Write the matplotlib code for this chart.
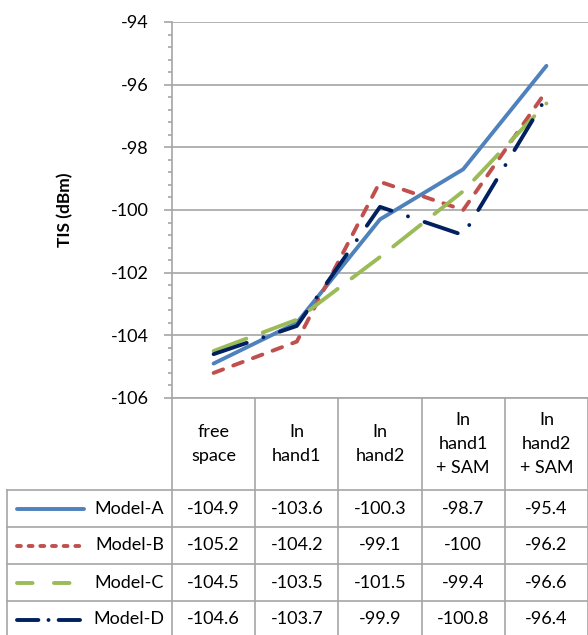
import matplotlib.pyplot as plt
from matplotlib.lines import Line2D
import matplotlib.transforms as mtransforms

plt.rcParams['font.family'] = ['Lato', 'DejaVu Sans']
plt.rcParams['axes.unicode_minus'] = False

categorias = ['free\nspace', 'In\nhand1', 'In\nhand2', 'In\nhand1\n+ SAM', 'In\nhand2\n+ SAM']
modelos = ['Model-A', 'Model-B', 'Model-C', 'Model-D']
modeloA = [-104.9, -103.6, -100.3, -98.7, -95.4]
modeloB = [-105.2, -104.2, -99.1, -100, -96.2]
modeloC = [-104.5, -103.5, -101.5, -99.4, -96.6]
modeloD = [-104.6, -103.7, -99.9, -100.8, -96.4]
textosTabla = [
    ['-104.9', '-103.6', '-100.3', '-98.7', '-95.4'],
    ['-105.2', '-104.2', '-99.1', '-100', '-96.2'],
    ['-104.5', '-103.5', '-101.5', '-99.4', '-96.6'],
    ['-104.6', '-103.7', '-99.9', '-100.8', '-96.4'],
]

colores = ['#4F81BD', '#C0504D', '#9BBB59', '#002060']
estilos = [(0, ()), (0, (2.6, 2.8)), (0, (9, 4.5)), (0, (9, 4.5, 0.01, 4.5))]
# muestras de la leyenda dentro de la tabla (patron mas corto)
estilosLeyenda = [(0, ()), (0, (1.0, 2.0)), (0, (4, 5.5)), (0, (5.5, 2.6, 0.01, 2.6))]
series = [modeloA, modeloB, modeloC, modeloD]
gris = '#A6A6A6'
grosor = 2.8
letra = 13

fig = plt.figure(figsize=(5.88, 6.35), dpi=100)
ax = fig.add_axes([172/588, 1-398/635, 416/588, 376/635])

x = list(range(len(categorias)))
for valores, color, estilo in zip(series, colores, estilos):
    if estilo == (0, ()):
        ax.plot(x, valores, color=color, lw=grosor, solid_capstyle='round', solid_joinstyle='round')
    else:
        ax.plot(x, valores, color=color, lw=grosor, linestyle=estilo, dash_capstyle='round', dash_joinstyle='round')

ax.set_xlim(-0.5, len(categorias)-0.5)
ax.set_ylim(-106, -94)
ax.set_yticks(range(-106, -93, 2))
ax.set_yticks([-106 + 0.4*i for i in range(31)], minor=True)
ax.tick_params(axis='y', which='major', length=6, width=1.2, color=gris, labelsize=letra, pad=11)
ax.tick_params(axis='y', which='minor', length=3, width=1.2, color=gris)
ax.set_xticks([])
ax.grid(True, axis='y', color=gris, lw=1.2)
for lado in ['top', 'right']:
    ax.spines[lado].set_visible(False)
ax.spines['left'].set_color(gris)
ax.spines['bottom'].set_color(gris)
ax.spines['left'].set_linewidth(1.2)
ax.spines['bottom'].set_linewidth(1.2)
ax.set_ylabel('TIS (dBm)', fontsize=12.5, fontweight='bold', labelpad=27)

# tabla de datos debajo del grafico
mixto = mtransforms.blended_transform_factory(ax.transData, ax.transAxes)
altoCab = 92/376
altoFila = 37/376
izq = -165/416

for i in range(len(categorias)+1):
    ax.add_line(Line2D([i-0.5, i-0.5], [0, -0.66], transform=mixto, color=gris, lw=1.2, clip_on=False))
ax.add_line(Line2D([izq, izq], [-altoCab, -0.66], transform=ax.transAxes, color=gris, lw=1.2, clip_on=False))
for j in range(len(modelos)+1):
    yy = -altoCab - j*altoFila
    ax.add_line(Line2D([izq, 1], [yy, yy], transform=ax.transAxes, color=gris, lw=1.2, clip_on=False))

for i, cat in enumerate(categorias):
    ax.text(i, -altoCab/2, cat, transform=mixto, ha='center', va='center', fontsize=letra, linespacing=1.62)

for j, nombre in enumerate(modelos):
    yc = -altoCab - (j+0.5)*altoFila
    for i in range(len(categorias)):
        ax.text(i, yc, textosTabla[j][i], transform=mixto, ha='center', va='center', fontsize=letra)
    ax.text(-8/416, yc, nombre, transform=ax.transAxes, ha='right', va='center', fontsize=letra)
    if estilosLeyenda[j] == (0, ()):
        ax.add_line(Line2D([-155/416, -88/416], [yc, yc], transform=ax.transAxes, color=colores[j], lw=grosor,
                           solid_capstyle='round', clip_on=False))
    else:
        ax.add_line(Line2D([-155/416, -88/416], [yc, yc], transform=ax.transAxes, color=colores[j], lw=grosor,
                           linestyle=estilosLeyenda[j], dash_capstyle='round', clip_on=False))

plt.savefig('out.png', dpi=100)
